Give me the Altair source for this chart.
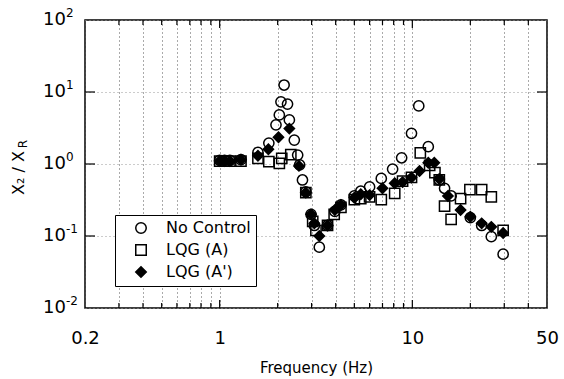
import altair as alt
import pandas as pd

FONT = "DejaVu Sans"

series_names = ["No Control", "LQG (A)", "LQG (A')"]

# No Control (open circles)
nc_f = [1.0, 1.06, 1.13, 1.29, 1.58, 1.80, 1.96, 2.04, 2.08, 2.16, 2.25, 2.30, 2.44, 2.54,
        2.60, 2.69, 2.80, 2.98, 3.10, 3.29, 3.63, 3.96, 4.26, 5.0, 5.4, 6.0, 6.9, 7.9, 8.8,
        9.9, 10.8, 12.1, 13.8, 14.7, 15.9, 20.0, 22.9, 25.7, 29.6]
nc_v = [1.12, 1.12, 1.12, 1.15, 1.45, 1.95, 3.5, 4.8, 7.3, 12.5, 6.8, 4.1, 2.15, 1.33,
        0.97, 0.60, 0.41, 0.20, 0.14, 0.070, 0.14, 0.22, 0.27, 0.36, 0.42, 0.48, 0.63, 0.85, 1.22,
        2.67, 6.4, 1.74, 0.60, 0.46, 0.36, 0.18, 0.14, 0.098, 0.056]

# LQG (A) (open squares)
a_f = [1.0, 1.06, 1.13, 1.29, 1.58, 1.80, 2.04, 2.10, 2.34, 2.80, 3.04, 3.16, 3.63, 3.93,
       4.26, 5.0, 5.4, 6.0, 6.9, 8.1, 8.9, 9.9, 11.0, 12.3, 13.1, 13.8, 14.7, 15.9, 17.8,
       19.9, 22.9, 25.7, 29.6]
a_v = [1.1, 1.1, 1.1, 1.1, 1.2, 1.08, 1.02, 1.2, 1.35, 0.40, 0.16, 0.12, 0.14, 0.20,
       0.25, 0.32, 0.33, 0.35, 0.32, 0.39, 0.58, 0.65, 1.43, 0.96, 0.76, 0.60, 0.26, 0.17, 0.33,
       0.44, 0.44, 0.35, 0.12]

# LQG (A') (filled diamonds)
ap_f = [1.0, 1.06, 1.13, 1.29, 1.58, 1.79, 2.02, 2.30, 2.58, 2.80, 2.98, 3.10, 3.29, 3.63,
        3.96, 4.26, 5.0, 5.4, 6.0, 7.0, 8.1, 8.9, 9.9, 10.9, 12.1, 13.0, 13.8, 15.3, 17.8,
        20.0, 22.9, 25.7, 29.6]
ap_v = [1.1, 1.1, 1.1, 1.15, 1.3, 1.6, 2.35, 3.1, 0.94, 0.40, 0.20, 0.15, 0.10, 0.14,
        0.23, 0.27, 0.34, 0.38, 0.37, 0.46, 0.54, 0.56, 0.65, 0.80, 1.04, 1.04, 0.62, 0.36, 0.23,
        0.185, 0.15, 0.134, 0.11]

x_major_ticks = [1, 10]
x_minor_ticks = [0.3, 0.4, 0.5, 0.6, 0.7, 0.8, 0.9, 2, 3, 4, 5, 6, 7, 8, 9, 20, 30, 40]
x_grid_vals = [0.2] + x_minor_ticks[:7] + [1] + x_minor_ticks[7:15] + [10] + x_minor_ticks[15:] + [50]
x_label_vals = [0.2, 1, 10, 50]
y_decades = [0.01, 0.1, 1, 10, 100]
y_exponents = ["-2", "-1", "0", "1", "2"]
y_inner_ticks = [0.1, 1, 10]
x_title = "Frequency (Hz)"
y_title_main = ["X₂ / X"]
y_title_sub = ["R"]

rows = []
for name, fs, vs in zip(series_names, [nc_f, a_f, ap_f], [nc_v, a_v, ap_v]):
    for f, v in zip(fs, vs):
        rows.append({"f": f, "v": v, "series": name})
df = pd.DataFrame(rows)

W, H = 462, 288
xscale = alt.Scale(type="log", domain=[0.2, 50], nice=False)
yscale = alt.Scale(type="log", domain=[0.01, 100], nice=False)

label_test = " || ".join(f"datum.value == {v}" for v in x_label_vals)

x_axis = alt.Axis(
    values=x_grid_vals, format="~g",
    labelExpr=f"({label_test}) ? datum.label : ''",
    grid=True, gridColor="#555", ticks=False, domain=False, labelPadding=21, labelFontSize=18,
    labelOverlap=False, labelFlush=False, title=x_title, titleFontSize=15, titlePadding=13)
y_axis = alt.Axis(values=y_decades, labels=False, ticks=False, domain=False, grid=True,
                  gridColor="#999", title="")

X = alt.X("f:Q", scale=xscale, axis=x_axis)
Y = alt.Y("v:Q", scale=yscale, axis=y_axis)

legend = alt.Legend(
    orient="none", legendX=30, legendY=195, strokeColor="black", fillColor="white",
    padding=5, rowPadding=4, symbolSize=110, symbolStrokeWidth=1.5,
    labelFontSize=16, labelFont=FONT, labelColor="black", symbolOffset=13, labelOffset=17,
)

points = alt.Chart(df).mark_point(size=105, strokeWidth=1.5, opacity=1).encode(
    x=X, y=Y,
    shape=alt.Shape("series:N", title=None,
                    scale=alt.Scale(domain=series_names, range=["circle", "square", "diamond"]),
                    legend=legend),
    fill=alt.Fill("series:N", title=None,
                  scale=alt.Scale(domain=series_names, range=["transparent", "transparent", "black"]),
                  legend=legend),
    stroke=alt.Stroke("series:N", title=None,
                      scale=alt.Scale(domain=series_names, range=["black", "black", "black"]),
                      legend=legend),
)

xmaj = pd.DataFrame({"f": x_major_ticks})
xmin = pd.DataFrame({"f": x_minor_ticks})
ytk = pd.DataFrame({"v": y_inner_ticks})

def xrule(d, y0, y1):
    return alt.Chart(d).mark_rule(color="black", strokeWidth=1.2).encode(
        x=X, y=alt.value(y0), y2=alt.value(y1))

def yrule(x0, x1):
    return alt.Chart(ytk).mark_rule(color="black", strokeWidth=1.2).encode(
        y=Y, x=alt.value(x0), x2=alt.value(x1))

tick_layers = [
    xrule(xmaj, H, H - 8), xrule(xmin, H, H - 5),
    xrule(xmaj, 0, 8), xrule(xmin, 0, 5),
    yrule(0, 10), yrule(W, W - 10),
]

ylab = pd.DataFrame({"v": y_decades, "exp": y_exponents})
ten = alt.Chart(ylab).mark_text(align="left", baseline="middle", fontSize=18, font=FONT,
                                color="black", text="10").encode(
    x=alt.value(-42), y=Y)
expo = alt.Chart(ylab).mark_text(align="left", baseline="middle", fontSize=12, font=FONT,
                                 color="black", dy=-7).encode(
    x=alt.value(-19), y=Y, text="exp:N")

yt_main = alt.Chart(pd.DataFrame({"t": y_title_main})).mark_text(
    angle=270, align="center", baseline="middle", fontSize=16, font=FONT, color="black").encode(
    x=alt.value(-66), y=alt.value(153), text="t:N")
yt_sub = alt.Chart(pd.DataFrame({"t": y_title_sub})).mark_text(
    angle=270, align="center", baseline="middle", fontSize=12, font=FONT, color="black").encode(
    x=alt.value(-62), y=alt.value(124), text="t:N")

chart = alt.layer(points, *tick_layers, ten, expo, yt_main, yt_sub).properties(
    width=W, height=H,
    autosize=alt.AutoSizeParams(type="none"),
    padding={"left": 85, "top": 20, "right": 17, "bottom": 71},
    background="white",
).configure_view(stroke="black", strokeWidth=1.5).configure_axis(
    gridDash=[1, 3], gridWidth=1, labelFont=FONT, titleFont=FONT,
    labelColor="black", titleColor="black", titleFontWeight="normal",
)

chart.save("out.html", embed_options={"renderer": "svg", "actions": False})
